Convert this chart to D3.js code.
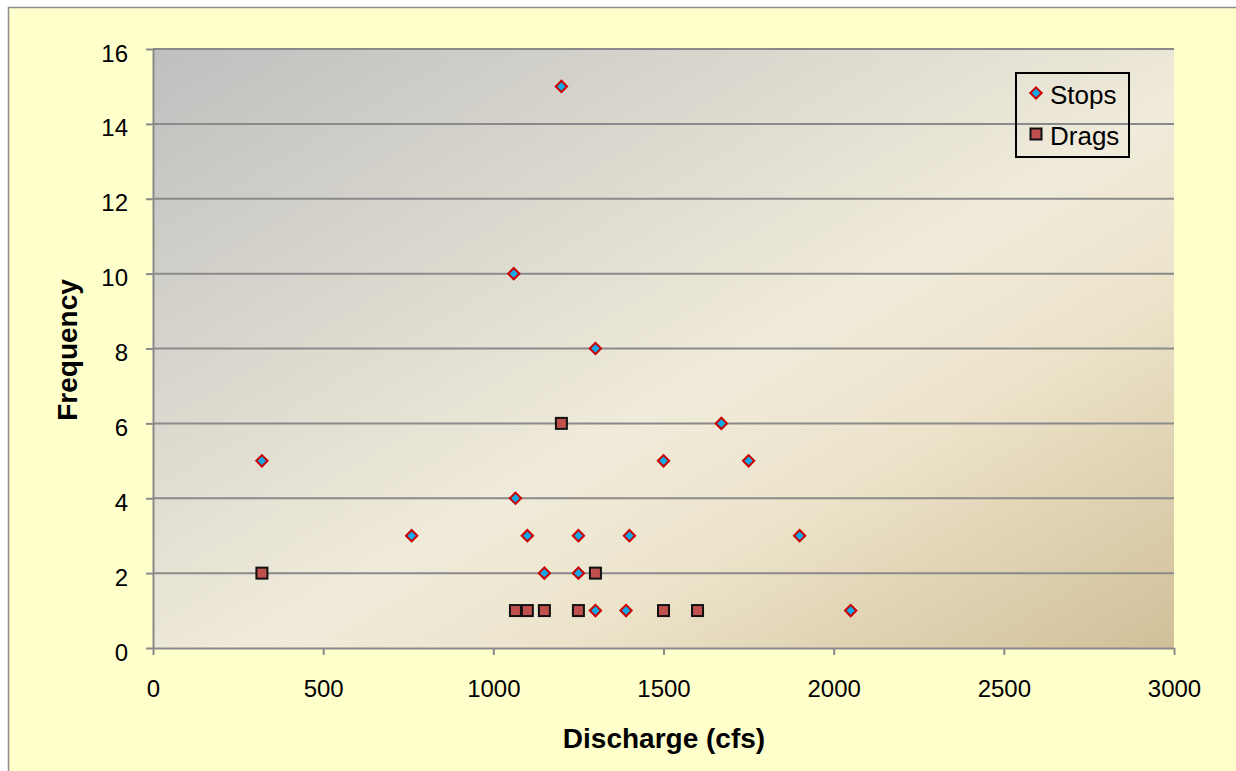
<!DOCTYPE html>
<html>
<head>
<meta charset="utf-8">
<script src="https://cdn.jsdelivr.net/npm/d3@7"></script>
<style>
  html, body { margin: 0; padding: 0; background: #ffffff; }
  svg { display: block; font-family: "Liberation Sans", Arial, sans-serif; }
</style>
</head>
<body>
<svg id="chart" width="1236" height="771"></svg>
<script>
// Stops observed per discharge (cfs) and frequency
const stopsDischarge = [320, 760, 1060, 1065, 1100, 1150, 1200, 1250, 1250, 1300, 1300, 1390, 1400, 1500, 1670, 1750, 1900, 2050];
const stopsFrequency = [5, 3, 10, 4, 3, 2, 15, 3, 2, 8, 1, 1, 3, 5, 6, 5, 3, 1];

// Drags observed per discharge (cfs) and frequency
const dragsDischarge = [320, 1065, 1100, 1150, 1200, 1250, 1300, 1500, 1600];
const dragsFrequency = [2, 1, 1, 1, 6, 1, 2, 1, 1];

const xTicks = [0, 500, 1000, 1500, 2000, 2500, 3000];
const yTicks = [0, 2, 4, 6, 8, 10, 12, 14, 16];
const seriesNames = ["Stops", "Drags"];

const svg = d3.select("#chart");
const W = 1236, H = 771;
const plot = { left: 153, right: 1174, top: 49, bottom: 648 };

const x = d3.scaleLinear().domain([0, 3000]).range([plot.left, plot.right]);
const y = d3.scaleLinear().domain([0, 16]).range([plot.bottom, plot.top]);

const defs = svg.append("defs");
const grad = defs.append("linearGradient")
  .attr("id", "plotFill")
  .attr("x1", 0).attr("y1", 0).attr("x2", 1).attr("y2", 1);
grad.append("stop").attr("offset", 0).attr("stop-color", "#bfbfbf");
grad.append("stop").attr("offset", 0.55).attr("stop-color", "#f0ebda");
grad.append("stop").attr("offset", 0.7).attr("stop-color", "#ece3ca");
grad.append("stop").attr("offset", 1).attr("stop-color", "#d1bf98");

// Chart area background with border
svg.append("rect")
  .attr("x", 8.5).attr("y", 7.5)
  .attr("width", W + 10).attr("height", H + 10)
  .attr("fill", "#ffffcc")
  .attr("stroke", "#8c8c8c").attr("stroke-width", 1.5);

// Plot area
svg.append("rect")
  .attr("x", plot.left).attr("y", plot.top)
  .attr("width", plot.right - plot.left).attr("height", plot.bottom - plot.top)
  .attr("fill", "url(#plotFill)");

// Horizontal gridlines
svg.append("g")
  .selectAll("line")
  .data(yTicks.filter(d => d > 0))
  .join("line")
  .attr("x1", plot.left).attr("x2", plot.right)
  .attr("y1", d => y(d)).attr("y2", d => y(d))
  .attr("stroke", "#8a8a8a").attr("stroke-width", 2);

// Axes
const yAxis = svg.append("g")
  .attr("transform", `translate(${plot.left},0)`)
  .call(d3.axisLeft(y).tickValues(yTicks).tickSize(7).tickPadding(18).tickSizeOuter(0));
const xAxis = svg.append("g")
  .attr("transform", `translate(0,${plot.bottom})`)
  .call(d3.axisBottom(x).tickValues(xTicks).tickFormat(d3.format("d")).tickSize(7).tickPadding(25).tickSizeOuter(0));

[yAxis, xAxis].forEach(g => {
  g.select(".domain").attr("stroke", "#8a8a8a").attr("stroke-width", 2);
  g.selectAll(".tick line").attr("stroke", "#8a8a8a").attr("stroke-width", 2);
  g.selectAll(".tick text")
    .attr("fill", "#000")
    .style("font-size", "24px")
    .style("font-family", "'Liberation Sans', Arial, sans-serif");
});
yAxis.selectAll(".tick text").attr("dy", "0.5em");

// Axis titles
svg.append("text")
  .attr("x", 664).attr("y", 748)
  .attr("text-anchor", "middle")
  .style("font-size", "28px").style("font-weight", "bold")
  .text("Discharge (cfs)");
svg.append("text")
  .attr("transform", "translate(77,350) rotate(-90)")
  .attr("text-anchor", "middle")
  .style("font-size", "28px").style("font-weight", "bold")
  .text("Frequency");

// Marker shapes
const diamondPath = d3.symbol().type(d3.symbolSquare).size(64);
function drawDiamond(sel) {
  sel.append("path")
    .attr("d", diamondPath())
    .attr("transform", "rotate(45)")
    .attr("fill", "#13a8e8")
    .attr("stroke", "#cc0000").attr("stroke-width", 2);
}
function drawSquare(sel) {
  sel.append("rect")
    .attr("x", -5.5).attr("y", -5.5).attr("width", 11).attr("height", 11)
    .attr("fill", "#c0504d")
    .attr("stroke", "#111").attr("stroke-width", 2);
}

const stopsData = stopsDischarge.map((d, i) => ({ x: d, y: stopsFrequency[i] }));
const dragsData = dragsDischarge.map((d, i) => ({ x: d, y: dragsFrequency[i] }));

// Drags drawn under stops
svg.append("g").selectAll("g")
  .data(dragsData).join("g")
  .attr("transform", d => `translate(${x(d.x)},${y(d.y)})`)
  .each(function () { drawSquare(d3.select(this)); });

svg.append("g").selectAll("g")
  .data(stopsData).join("g")
  .attr("transform", d => `translate(${x(d.x)},${y(d.y)})`)
  .each(function () { drawDiamond(d3.select(this)); });

// Legend
const legend = svg.append("g").attr("transform", "translate(1016,73)");
legend.append("rect")
  .attr("width", 113).attr("height", 84)
  .attr("fill", "none")
  .attr("stroke", "#000").attr("stroke-width", 2);
const items = legend.selectAll("g.item")
  .data(seriesNames).join("g")
  .attr("class", "item")
  .attr("transform", (d, i) => `translate(20,${20 + i * 41})`);
items.each(function (d, i) {
  const g = d3.select(this);
  if (i === 0) drawDiamond(g); else drawSquare(g);
  g.append("text")
    .attr("x", 14).attr("y", 11)
    .style("font-size", "26px")
    .text(d);
});
</script>
</body>
</html>
